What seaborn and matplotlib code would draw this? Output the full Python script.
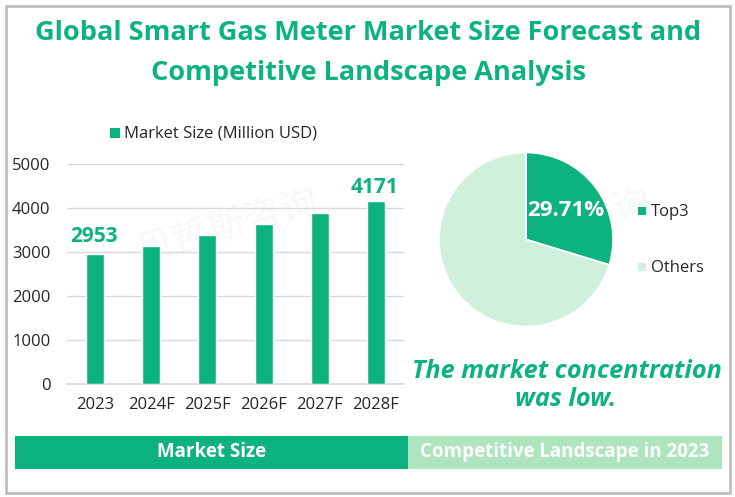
import matplotlib
matplotlib.use('Agg')
import matplotlib.pyplot as plt
from matplotlib.patches import Rectangle
import pandas as pd
import seaborn as sns

years = ['2023', '2024F', '2025F', '2026F', '2027F', '2028F']
market_size = [2953, 3150, 3400, 3650, 3900, 4171]
shares = [29.71, 70.29]
share_names = ['Top3', 'Others']

GREEN = '#0DB37E'
PALE = '#CFF0DC'
BAND = '#AEE5BF'
W, H = 735, 497

sns.set_theme(style='white')
plt.rcParams['font.family'] = ['Open Sans', 'DejaVu Sans']


def box(x0, y0, x1, y1):
    # pixel box (top-left origin) to figure fractions
    return [x0 / W, 1 - y1 / H, (x1 - x0) / W, (y1 - y0) / H]


fig = plt.figure(figsize=(W / 100, H / 100), dpi=100, facecolor='white')

# faint watermark behind everything
for cx, cy in [(228, 228), (561, 228)]:
    fig.text(cx / W, 1 - cy / H, '贝哲斯咨询', ha='center', va='center', color='#F8F8F8', fontsize=27,
             rotation=16, family=['Noto Sans CJK SC'], zorder=-1)

# outer frame
fig.add_artist(Rectangle((5.5 / W, 1 - 493 / H), 724.5 / W, 487 / H, transform=fig.transFigure,
                         fill=False, edgecolor='#BFBFBF', linewidth=2))

fig.text(368 / W, 1 - 33 / H, 'Global Smart Gas Meter Market Size Forecast and',
         ha='center', va='center', color=GREEN, fontsize=19.5, fontweight='bold')
fig.text(368 / W, 1 - 73 / H, 'Competitive Landscape Analysis',
         ha='center', va='center', color=GREEN, fontsize=19.5, fontweight='bold')

# bar chart
ax = fig.add_axes(box(67, 164.3, 404, 384.3))
ax.set_facecolor('none')
df = pd.DataFrame({'year': years, 'size': market_size})
sns.barplot(data=df, x='year', y='size', color=GREEN, saturation=1, width=0.32, ax=ax, zorder=3)
ax.set_ylim(0, 5000)
ax.set_yticks(range(0, 5001, 1000))
ax.set_xlabel('')
ax.set_ylabel('')
ax.grid(axis='y', color='#D9D9D9', linewidth=1)
ax.set_axisbelow(True)
sns.despine(ax=ax, left=True, top=True, right=True)
ax.spines['bottom'].set_color('#D9D9D9')
ax.tick_params(axis='both', length=0, labelsize=12, labelcolor='#262626')
ax.tick_params(axis='x', pad=9)
ax.tick_params(axis='y', pad=12)

for i, off in ((0, 5), (5, 2)):
    ax.annotate(str(market_size[i]), (i, market_size[i]), xytext=(-1, off), textcoords='offset points',
                ha='center', va='bottom', color=GREEN, fontsize=15, fontweight='bold')

fig.patches.append(Rectangle((110 / W, 1 - 138 / H), 10 / W, 10 / H, transform=fig.transFigure,
                             facecolor=GREEN, edgecolor='none', figure=fig))
fig.text(124 / W, 1 - 133 / H, 'Market Size (Million USD)', ha='left', va='center',
         color='#262626', fontsize=12)

# pie chart
pie_ax = fig.add_axes(box(439, 152.5, 613, 326.5))
wedges, _ = pie_ax.pie(shares, colors=[GREEN, PALE], startangle=90, counterclock=False, radius=1,
                       wedgeprops={'edgecolor': 'white', 'linewidth': 1.2})
pie_ax.set_xlim(-1, 1)
pie_ax.set_ylim(-1, 1)
fig.text(566 / W, 1 - 210 / H, '29.71%', ha='center', va='center', color='white',
         fontsize=16, fontweight='bold')

for name, color, y in zip(share_names, [GREEN, PALE], [211, 267]):
    fig.patches.append(Rectangle((638 / W, 1 - (y + 4) / H), 8 / W, 8 / H, transform=fig.transFigure,
                                 facecolor=color, edgecolor='none', figure=fig))
    fig.text(651 / W, 1 - (y + 1.5) / H, name, ha='left', va='center', color='#262626', fontsize=12)

fig.text(566.5 / W, 1 - 371 / H, 'The market concentration', ha='center', va='center', color=GREEN,
         fontsize=18.2, fontweight='bold', style='italic')
fig.text(566 / W, 1 - 400 / H, 'was low.', ha='center', va='center', color=GREEN,
         fontsize=18.2, fontweight='bold', style='italic')

# bottom bands
fig.patches.append(Rectangle((15 / W, 1 - 469 / H), 393 / W, 33 / H, transform=fig.transFigure,
                             facecolor=GREEN, edgecolor='none', figure=fig))
fig.patches.append(Rectangle((408 / W, 1 - 469 / H), 314 / W, 33 / H, transform=fig.transFigure,
                             facecolor=BAND, edgecolor='none', figure=fig))
fig.text(212 / W, 1 - 452 / H, 'Market Size', ha='center', va='center', color='white',
         fontsize=13.5, fontweight='bold')
fig.text(565 / W, 1 - 452 / H, 'Competitive Landscape in 2023', ha='center', va='center', color='white',
         fontsize=13.5, fontweight='bold')

fig.savefig('out.png', dpi=100)
